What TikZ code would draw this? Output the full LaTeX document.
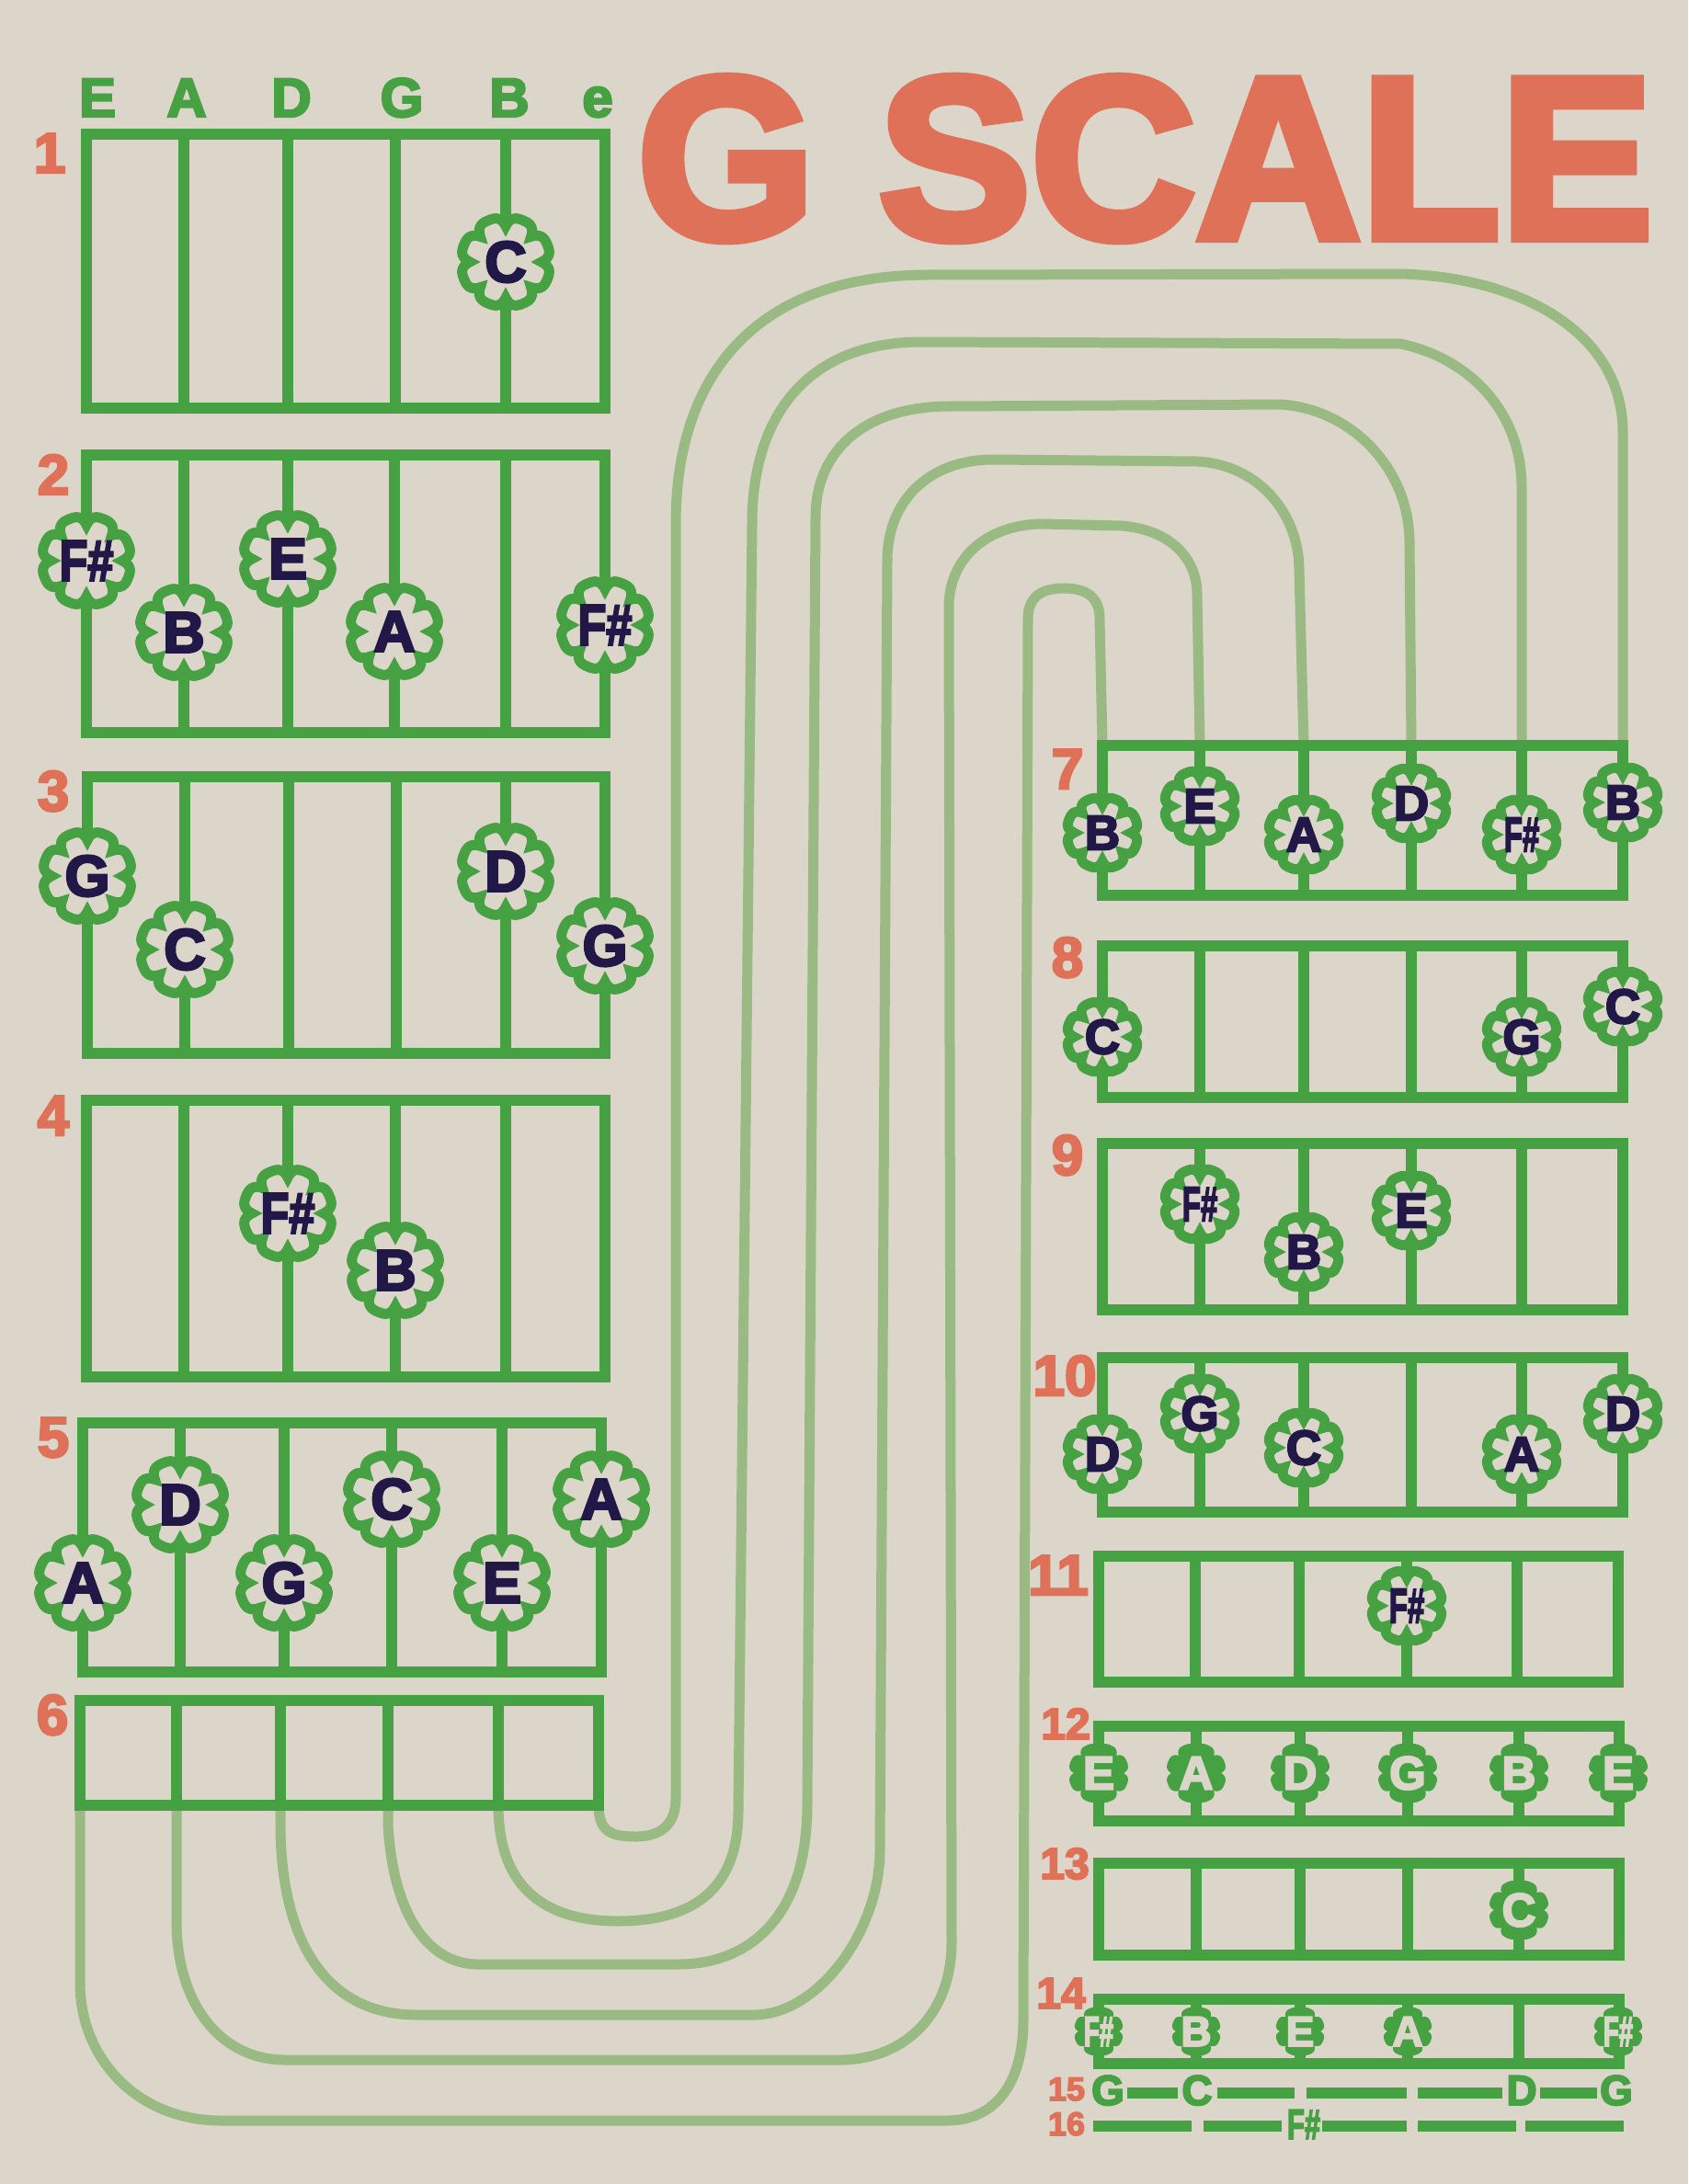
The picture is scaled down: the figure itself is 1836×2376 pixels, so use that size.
\documentclass[tikz,border=0pt]{standalone}
\usepackage{fontspec}
\usepackage{graphicx}
\setmainfont{Liberation Sans}
\newfontfamily\heavy{Liberation Sans}[BoldFeatures={FakeBold=4}]
\definecolor{bg}{HTML}{DCD5C9}
\definecolor{grn}{HTML}{45A142}
\definecolor{lgrn}{HTML}{9ABA83}
\definecolor{org}{HTML}{DE7157}
\definecolor{navy}{HTML}{211848}
\newcommand\Fs[1][0.8]{\scalebox{#1}[1]{F\#}}
% badge outline: x, y, Rmin, Rmax, style
\newcommand\bdg[5]{%
  \path[#5,shift={(#1,#2)}] plot[domain=0:360,samples=289]
    (\x:{#3+(#4-#3)*abs(sin(4*\x))*(2-abs(sin(4*\x)))}) -- cycle;}
\newcommand\noteL[4]{\bdg{#2}{#3}{39}{49}{draw=grn,fill=bg,line width=11pt}
  \node[ltrL] (#1) at (#2,#3) {#4};}
\newcommand\noteR[4]{\bdg{#2}{#3}{31}{39}{draw=grn,fill=bg,line width=11pt}
  \node[ltrR] (#1) at (#2,#3) {#4};}
\newcommand\noteF[4]{\bdg{#2}{#3}{27}{33}{fill=grn}
  \node[ltrF] (#1) at (#2,#3) {#4};}
\newcommand\noteS[4]{\bdg{#2}{#3}{22}{27}{fill=grn}
  \node[ltrS] (#1) at (#2,#3) {#4};}
\newcommand\fretbox[5]{%
  \draw[frame] (#1,#2) rectangle (#3,#4);
  \foreach \s in {#5} {\draw[frame] (\s,#2) -- (\s,#4);}}
\begin{document}
\begin{tikzpicture}[x=1pt,y=-1pt,
  frame/.style={draw=grn,line width=12pt},
  wire/.style={draw=lgrn,line width=11pt,line join=round},
  ltrL/.style={text=navy,inner sep=0pt,font=\heavy\bfseries\fontsize{63}{63}\selectfont},
  ltrR/.style={text=navy,inner sep=0pt,font=\heavy\bfseries\fontsize{53}{53}\selectfont},
  ltrF/.style={text=bg,inner sep=0pt,font=\heavy\bfseries\fontsize{51}{51}\selectfont},
  ltrS/.style={text=bg,inner sep=0pt,font=\heavy\bfseries\fontsize{46}{46}\selectfont},
  num/.style={text=org,inner sep=0pt,anchor=base,font=\heavy\bfseries\fontsize{62}{62}\selectfont},
  numS/.style={num,font=\heavy\bfseries\fontsize{48}{48}\selectfont},
  numT/.style={num,font=\heavy\bfseries\fontsize{36}{36}\selectfont},
  hdr/.style={text=grn,inner sep=0pt,anchor=base,font=\heavy\bfseries\fontsize{60}{60}\selectfont},
  row/.style={text=grn,inner sep=0pt,anchor=base,font=\heavy\bfseries\fontsize{46}{46}\selectfont},
  bar/.style={draw=grn,line width=12pt}]
\useasboundingbox (0,0) rectangle (1836,2376);
\fill[bg] (0,0) rectangle (1836,2376);

% title
\node[text=org,inner sep=0pt,anchor=base west,font=\heavy\bfseries\fontsize{251}{251}\selectfont] (title) at (693,259) {\scalebox{0.99}[1]{G SCALE}};

% string-end coordinates
\coordinate (a1) at (87,1964);  \coordinate (a2) at (192,1964);
\coordinate (a3) at (305,1964); \coordinate (a4) at (422,1964);
\coordinate (a5) at (542,1964); \coordinate (a6) at (651,1964);
\coordinate (b1) at (1199,811); \coordinate (b2) at (1305,811);
\coordinate (b3) at (1418,811); \coordinate (b4) at (1535,811);
\coordinate (b5) at (1655,811); \coordinate (b6) at (1765,811);

% connecting wires
\draw[wire] (a1) -- (87,2157) .. controls (87,2240) and (150,2307) .. (240,2307) -- (1030,2307) .. controls (1080,2307) and (1113,2270) .. (1113,2197) -- (1118,673) .. controls (1118,650) and (1132,640) .. (1157,640) .. controls (1182,640) and (1196,650) .. (1196,673) -- (b1);
\draw[wire] (a2) -- (192,2090) .. controls (192,2180) and (240,2241) .. (310,2241) -- (913,2241) .. controls (985,2241) and (1035,2190) .. (1035,2113) -- (1032,660) .. controls (1032,610) and (1070,571) .. (1133,570) -- (1220,572) .. controls (1270,576) and (1302,605) .. (1302,647) -- (b2);
\draw[wire] (a3) -- (305,1990) .. controls (307,2120) and (360,2192) .. (453,2192) -- (820,2192) .. controls (890,2192) and (957,2100) .. (957,2013) -- (965,610) .. controls (965,545) and (1010,500) .. (1080,500) -- (1303,502) .. controls (1370,506) and (1413,560) .. (1413,620) -- (b3);
\draw[wire] (a4) -- (422,1985) .. controls (428,2090) and (470,2137) .. (520,2137) -- (737,2137) .. controls (820,2137) and (878,2080) .. (878,1963) -- (887,563) .. controls (887,490) and (940,442) .. (1033,442) -- (1393,440) .. controls (1470,445) and (1533,510) .. (1533,590) -- (b4);
\draw[wire] (a5) .. controls (542,2060) and (600,2090) .. (672,2090) .. controls (760,2090) and (803,2050) .. (803,1970) -- (818,570) .. controls (818,450) and (880,373) .. (1000,372) -- (1523,374) .. controls (1600,390) and (1655,450) .. (1655,530) -- (b5);
\draw[wire] (a6) .. controls (651,1995) and (668,1998) .. (692,1998) .. controls (718,1998) and (735,1985) .. (735,1957) -- (735,570) .. controls (735,400) and (830,299) .. (1010,299) -- (1520,298) .. controls (1650,300) and (1765,360) .. (1765,470) -- (b6);

% fret boxes, left column
\fretbox{94}{146}{658}{444}{200,313,430,550}
\fretbox{94}{495}{658}{797}{200,313,429,550}
\fretbox{95}{845}{658}{1146}{201,314,431,550}
\fretbox{94}{1197}{658}{1498}{200,313,430,550}
\fretbox{90}{1548}{654}{1819}{196,309,426,546}
\fretbox{87}{1850}{651}{1964}{192,305,422,542}
% right column
\fretbox{1199}{811}{1765}{974}{1305,1418,1535,1655}
\fretbox{1199}{1029}{1765}{1194}{1305,1418,1535,1655}
\fretbox{1199}{1244}{1765}{1425}{1305,1418,1535,1655}
\fretbox{1199}{1477}{1765}{1645}{1305,1418,1535,1655}
\fretbox{1195}{1693}{1760}{1830}{1300,1413,1530,1650}
\fretbox{1195}{1878}{1761}{1981}{1301,1414,1531,1652}
\fretbox{1195}{2027}{1761}{2127}{1301,1414,1531,1652}
\fretbox{1195}{2175}{1761}{2245}{1301,1414,1531,1652}

% header
\node[hdr] (hE) at (106,127) {E};
\node[hdr] (hA) at (203,127) {A};
\node[hdr] (hD) at (317,127) {D};
\node[hdr] (hG) at (437,127) {G};
\node[hdr] (hB) at (554,127) {B};
\node[hdr] (he) at (650,127) {e};

% numbers
\node[num] (n1) at (54,188) {1};
\node[num] (n2) at (58,538) {2};
\node[num] (n3) at (58,882) {3};
\node[num] (n4) at (58,1235) {4};
\node[num] (n5) at (58,1585) {5};
\node[num] (n6) at (57,1887) {6};
\node[num] (n7) at (1161,858) {7};
\node[num] (n8) at (1161,1063) {8};
\node[num] (n9) at (1161,1278) {9};
\node[num] (n10) at (1158,1518) {10};
\node[num] (n11) at (1151,1735) {11};
\node[numS] (n12) at (1159,1892) {12};
\node[numS] (n13) at (1158,2044) {13};
\node[numS] (n14) at (1154,2185) {14};
\node[numT] (n15) at (1160,2285) {15};
\node[numT] (n16) at (1160,2323) {16};

% notes, left column
\noteL{c1}{550}{285}{C}
\noteL{f2a}{94}{610}{\Fs}
\noteL{b2}{200}{688}{B}
\noteL{e2}{313}{608}{E}
\noteL{a2n}{429}{687}{A}
\noteL{f2b}{658}{680}{\Fs}
\noteL{g3a}{95}{953}{G}
\noteL{c3}{201}{1033}{C}
\noteL{d3}{550}{948}{D}
\noteL{g3b}{658}{1029}{G}
\noteL{f4}{313}{1320}{\Fs}
\noteL{b4n}{430}{1382}{B}
\noteL{a5a}{90}{1722}{A}
\noteL{d5}{196}{1637}{D}
\noteL{g5}{309}{1722}{G}
\noteL{c5}{426}{1631}{C}
\noteL{e5}{546}{1722}{E}
\noteL{a5b}{654}{1631}{A}
% notes, right column
\noteR{b7a}{1199}{906}{B}
\noteR{e7}{1305}{877}{E}
\noteR{a7}{1418}{908}{A}
\noteR{d7}{1535}{874}{D}
\noteR{f7}{1655}{908}{\Fs[0.62]}
\noteR{b7b}{1765}{873}{B}
\noteR{c8a}{1199}{1128}{C}
\noteR{g8}{1655}{1128}{G}
\noteR{c8b}{1765}{1095}{C}
\noteR{f9}{1305}{1310}{\Fs[0.62]}
\noteR{b9}{1418}{1362}{B}
\noteR{e9}{1535}{1317}{E}
\noteR{d10a}{1199}{1582}{D}
\noteR{g10}{1305}{1538}{G}
\noteR{c10}{1418}{1575}{C}
\noteR{a10}{1655}{1582}{A}
\noteR{d10b}{1765}{1538}{D}
\noteR{f11}{1530}{1747}{\Fs[0.62]}
\noteF{e12a}{1195}{1929}{E}
\noteF{a12}{1301}{1929}{A}
\noteF{d12}{1414}{1929}{D}
\noteF{g12}{1531}{1929}{G}
\noteF{b12}{1652}{1929}{B}
\noteF{e12b}{1760}{1929}{E}
\noteF{c13}{1652}{2078}{C}
\noteS{f14a}{1195}{2210}{\Fs[0.6]}
\noteS{b14}{1301}{2210}{B}
\noteS{e14}{1414}{2210}{E}
\noteS{a14}{1531}{2210}{A}
\noteS{f14b}{1760}{2210}{\Fs[0.6]}

% row 15
\node[row] (g15a) at (1205,2290) {G};
\node[row] (c15) at (1302,2290) {C};
\node[row] (d15) at (1655,2290) {D};
\node[row] (g15b) at (1758,2290) {G};
\draw[bar] (1226,2277) -- (1281,2277);
\draw[bar] (1324,2277) -- (1408,2277);
\draw[bar] (1421,2277) -- (1530,2277);
\draw[bar] (1542,2277) -- (1634,2277);
\draw[bar] (1675,2277) -- (1737,2277);
% row 16
\node[row] (f16) at (1418,2327) {\Fs[0.67]};
\draw[bar] (1189,2313) -- (1296,2313);
\draw[bar] (1309,2313) -- (1394,2313);
\draw[bar] (1438,2313) -- (1530,2313);
\draw[bar] (1542,2313) -- (1649,2313);
\draw[bar] (1659,2313) -- (1766,2313);
\end{tikzpicture}
\end{document}
